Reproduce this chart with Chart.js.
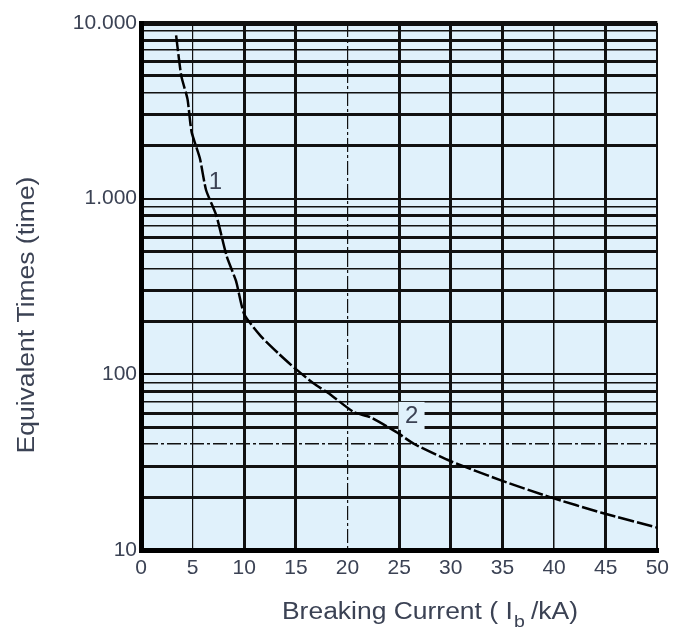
<!DOCTYPE html>
<html>
<head>
<meta charset="utf-8">
<script src="https://cdn.jsdelivr.net/npm/chart.js@4"></script>
<style>
  body { margin: 0; background: #fff; }
  #wrap { width: 675px; height: 632px; }
</style>
</head>
<body>
<div id="wrap"><canvas id="myChart" width="675" height="632"></canvas></div>
<script>
// breaking current (kA) and equivalent times
var currentKA = [3.4, 3.9, 4.5, 4.9, 5.7, 6.3, 7.3, 8.3, 9.2, 10, 11.6, 13.4, 15, 16.7, 18.3, 20.6, 22.2, 24.7, 26.5, 30, 34.8, 39.6, 44.6, 50];
var equivTimes = [8500, 5000, 3700, 2400, 1700, 1120, 800, 470, 340, 220, 165, 130, 107, 89, 77, 61, 57, 47, 40, 32, 25, 20, 16.3, 13.4];

var xTicks = [0, 5, 10, 15, 20, 25, 30, 35, 40, 45, 50];
var decades = [10, 100, 1000, 10000];
var decadeLabels = ["10", "100", "1.000", "10.000"];
var curveNames = ["1", "2"];
var curveNameX = [7.2, 26.2];
var curveNameY = [1230, 58];

var font = "'Liberation Sans', Arial, sans-serif";
var textColor = "#3b4254";
var lineColor = "#111111";

// log grid: 1..9 in each decade
var yTicks = [];
decades.slice(0, 3).forEach(function (d) {
    for (var s = 1; s < 10; s++) yTicks.push(d * s);
});
yTicks.push(10000);

function sig(v) {
    return Math.round(v / Math.pow(10, Math.floor(Math.log10(v) + 1e-9)));
}

var paperPlugin = {
    id: "paper",
    beforeDraw: function (chart) {
        var a = chart.chartArea, ctx = chart.ctx;
        ctx.save();
        ctx.fillStyle = "#e0f1fb";
        ctx.fillRect(a.left, a.top, a.right - a.left, a.bottom - a.top);
        ctx.restore();
    },
    afterDraw: function (chart) {
        var ctx = chart.ctx;
        var xs = chart.scales.x, ys = chart.scales.y;
        ctx.save();
        ctx.fillStyle = textColor;

        // curve names
        ctx.font = "24px " + font;
        ctx.textAlign = "center";
        ctx.textBaseline = "middle";
        for (var i = 0; i < curveNames.length; i++) {
            var px = xs.getPixelForValue(curveNameX[i]);
            var py = ys.getPixelForValue(curveNameY[i]);
            if (i == 1) {
                ctx.fillStyle = "#e0f1fb";
                ctx.fillRect(px - 13, py - 14, 26, 28);
                ctx.fillStyle = textColor;
            }
            ctx.fillText(curveNames[i], px, py);
        }

        // y title
        ctx.save();
        ctx.translate(28, 315);
        ctx.rotate(-Math.PI / 2);
        ctx.scale(1.15, 1);
        ctx.font = "23px " + font;
        ctx.fillText("Equivalent Times (time)", 0, 0);
        ctx.restore();

        // x title with subscript
        ctx.save();
        ctx.translate(430, 619);
        ctx.scale(1.15, 1);
        ctx.textAlign = "left";
        ctx.textBaseline = "alphabetic";
        var p1 = "Breaking Current ( I", p2 = "b", p3 = " /kA)";
        ctx.font = "23px " + font;
        var w1 = ctx.measureText(p1).width, w3 = ctx.measureText(p3).width;
        ctx.font = "17px " + font;
        var w2 = ctx.measureText(p2).width;
        var x0 = -(w1 + w2 + w3) / 2;
        ctx.font = "23px " + font;
        ctx.fillText(p1, x0, 0);
        ctx.font = "17px " + font;
        ctx.fillText(p2, x0 + w1 + 1, 8);
        ctx.font = "23px " + font;
        ctx.fillText(p3, x0 + w1 + w2, 0);
        ctx.restore();

        ctx.restore();
    }
};

new Chart("myChart", {
    type: "line",
    data: {
        labels: currentKA,
        datasets: [{
            data: currentKA.map(function (x, i) { return { x: x, y: equivTimes[i] }; }),
            borderColor: "#000",
            borderWidth: 2.5,
            borderDash: [16, 3],
            pointRadius: 0,
            tension: 0.2,
            fill: false
        }]
    },
    options: {
        responsive: false,
        animation: false,
        layout: { padding: { top: 23, right: 14, left: 0, bottom: 0 } },
        plugins: {
            legend: { display: false },
            tooltip: { enabled: false }
        },
        scales: {
            x: {
                type: "linear",
                min: 0,
                max: 50,
                afterBuildTicks: function (s) {
                    s.ticks = xTicks.map(function (v) { return { value: v }; });
                },
                afterFit: function (s) { s.height = 82; },
                ticks: {
                    color: textColor,
                    font: { family: font, size: 21 },
                    padding: 6,
                    maxRotation: 0,
                    autoSkip: false
                },
                grid: {
                    drawTicks: false,
                    color: lineColor,
                    lineWidth: function (c) {
                        var v = c.tick ? c.tick.value : 0;
                        if (v == 5 || v == 20) return 1.2;
                        if (v == 40) return 1.5;
                        if (v == 50) return 2;
                        return 3;
                    }
                },
                border: {
                    color: "#000",
                    width: 5,
                    dash: function (c) {
                        return c.tick && c.tick.value == 20 ? [14, 3, 3, 3] : [];
                    }
                }
            },
            y: {
                type: "logarithmic",
                min: 10,
                max: 10000,
                afterBuildTicks: function (s) {
                    s.ticks = yTicks.map(function (v) { return { value: v }; });
                },
                afterFit: function (s) { s.width = 141; },
                ticks: {
                    color: textColor,
                    font: { family: font, size: 21 },
                    padding: 4,
                    autoSkip: false,
                    callback: function (v) {
                        var k = decades.indexOf(v);
                        return k >= 0 ? decadeLabels[k] : "";
                    }
                },
                grid: {
                    drawTicks: false,
                    color: lineColor,
                    lineWidth: function (c) {
                        if (!c.tick) return 1;
                        var v = c.tick.value, s = sig(v);
                        if (v == 10000) return 5;
                        if (s == 2 || s == 3 || s == 5 || s == 6 || s == 8) return 3;
                        if (s == 1) return 2;
                        return 1.5;
                    }
                },
                border: {
                    color: "#000",
                    width: 5,
                    dash: function (c) {
                        return c.tick && c.tick.value == 40 ? [14, 3, 3, 3] : [];
                    }
                }
            }
        }
    },
    plugins: [paperPlugin]
});
</script>
</body>
</html>
